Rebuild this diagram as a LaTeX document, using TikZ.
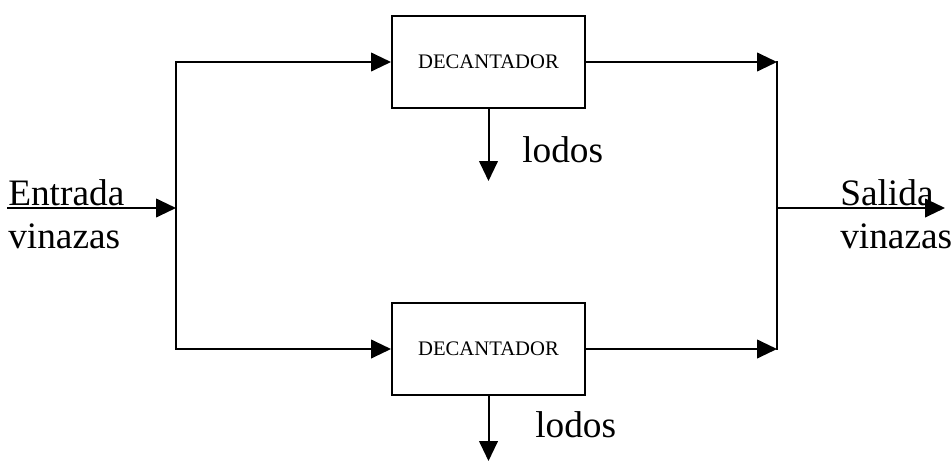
\documentclass[tikz,border=0pt]{standalone}
\usepackage{fontspec}
\setmainfont{Liberation Serif}
\usetikzlibrary{arrows.meta}
\tikzset{
  pipe/.style={line width=1.5pt,line cap=rect},
  flow/.style={pipe,-{Triangle[length=15pt,width=14pt]}},
  tank/.style={draw,line width=1.5pt,minimum width=144.75pt,minimum height=69pt,inner sep=0pt,font=\fontsize{15.5}{18}\selectfont},
  flowtext/.style={font=\fontsize{28}{32}\selectfont,inner sep=0pt,anchor=base west}
}

\begin{document}
\begin{tikzpicture}[x=0.75pt,y=-0.75pt]
		%%%%% START %%%%%
		\useasboundingbox (0,0) rectangle (952,461);
		
		% the two settling tanks
		\node[tank] (dectop) at (488.5,62) {DECANTADOR};
		\node[tank] (decbot) at (488.5,349) {DECANTADOR};
		
		% split and merge points
		\coordinate (inlet) at (8,208);
		\coordinate (split) at (176,208);
		\coordinate (splittop) at (176,62);
		\coordinate (splitbot) at (176,349);
		\coordinate (merge) at (777,208);
		\coordinate (mergetop) at (777,62);
		\coordinate (mergebot) at (777,349);
		\coordinate (outlet) at (945,208);
		\coordinate (sludgetop) at (dectop.south |- 0,181);
		\coordinate (sludgebot) at (decbot.south |- 0,461);
		
		% texts
		\node[flowtext] (entrada) at (8,205) {Entrada};
		\node[flowtext] (vinin) at (8,248) {vinazas};
		\node[flowtext] (salida) at (840,205) {Salida};
		\node[flowtext] (vinout) at (840,248) {vinazas};
		\node[flowtext] (lodtop) at (522,162) {lodos};
		\node[flowtext] (lodbot) at (535,437) {lodos};
		
		% inlet and distribution
		\draw[flow] (inlet) -- (split);
		\draw[pipe] (splittop) -- (splitbot);
		\draw[flow] (splittop) -- (dectop.west);
		\draw[flow] (splitbot) -- (decbot.west);
		
		% sludge
		\draw[flow] (dectop.south) -- (sludgetop);
		\draw[flow] (decbot.south) -- (sludgebot);
		
		% collection and outlet
		\draw[flow] (dectop.east) -- (mergetop);
		\draw[flow] (decbot.east) -- (mergebot);
		\draw[pipe] (mergetop) -- (mergebot);
		\draw[flow] (merge) -- (outlet);
		
		%%%%% END %%%%%
\end{tikzpicture}
\end{document}
